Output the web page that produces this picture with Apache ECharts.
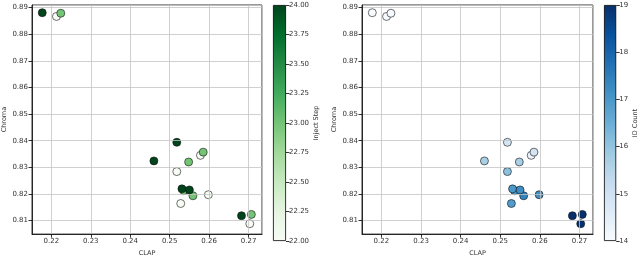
<!DOCTYPE html>
<html><head><meta charset="utf-8">
<script src="https://cdn.jsdelivr.net/npm/echarts@6/dist/echarts.min.js"></script>
<style>html,body{margin:0;padding:0;background:#fff}#c{width:640px;height:262px}</style>
</head><body><div id="c"></div>
<script>
// Data (ordered by inject step so overlaps match: 22, then 23, then 24)
const clap       = [0.2213,0.2578,0.2518,0.2528,0.2598,0.2703, 0.2224,0.2585,0.2548,0.2536,0.2559,0.2707, 0.2177,0.2518,0.2460,0.2531,0.2550,0.2682];
const chroma     = [0.8867,0.8345,0.8284,0.8164,0.8197,0.8088, 0.8879,0.8357,0.8320,0.8212,0.8193,0.8123, 0.8881,0.8394,0.8324,0.8219,0.8215,0.8118];
const injectStep = [22,22,22,22,22,22, 23,23,23,23,23,23, 24,24,24,24,24,24];
const idCount    = [14,14.3,16.1,16.9,17.2,19, 14,14.9,15.7,16.9,17.4,19, 14,14.9,15.7,17.0,17.2,19];
const stepTicks  = [22,24,0.25];
const idTicks    = [14,19,1];
const greens = ['#f7fcf5','#e5f5e0','#c7e9c0','#a1d99b','#74c476','#41ab5d','#238b45','#006d2c','#00441b'];
const blues  = ['#f7fbff','#deebf7','#c6dbef','#9ecae1','#6baed6','#4292c6','#2171b5','#08519c','#08306b'];

const rows = clap.map((c,i)=>[c, chroma[i], injectStep[i], idCount[i]]);
const FONT = 'DejaVu Sans';
const txt = {fontFamily: FONT, fontSize: 7, color: '#333'};
const nice = v => Math.abs(v*100 - Math.round(v*100)) < 1e-6;

function xAx(gi){
  return {type:'value', gridIndex:gi, min:0.2151, max:0.2734, splitNumber:6, minInterval:0.01, maxInterval:0.01, z:3,
    axisLine:{show:true, onZero:false, lineStyle:{color:'#000', width:0.8}},
    axisTick:{show:true, length:3.5, lineStyle:{color:'#000', width:0.8}},
    axisLabel:Object.assign({margin:4, showMinLabel:false, showMaxLabel:false, formatter:v=> nice(v)? v.toFixed(2):''}, txt),
    splitLine:{show:true, lineStyle:{color:'#c4c4c4', width:0.8}},
    name:'CLAP', nameLocation:'middle', nameGap:14, nameTextStyle:{fontFamily:FONT, fontSize:6.5, color:'#333'}};
}
function yAx(gi){
  return {type:'value', gridIndex:gi, min:0.8049, max:0.891, splitNumber:9, minInterval:0.01, maxInterval:0.01, z:3,
    axisLine:{show:true, onZero:false, lineStyle:{color:'#000', width:0.8}},
    axisTick:{show:true, length:3.5, lineStyle:{color:'#000', width:0.8}},
    axisLabel:Object.assign({margin:4, showMinLabel:false, showMaxLabel:false, formatter:v=> nice(v)? v.toFixed(2):''}, txt),
    splitLine:{show:true, lineStyle:{color:'#c4c4c4', width:0.8}},
    name:'Chroma', nameLocation:'middle', nameGap:24, nameTextStyle:{fontFamily:FONT, fontSize:6.5, color:'#333'}};
}
function cbX(gi){
  return {type:'category', gridIndex:gi, data:[''], show:false, boundaryGap:true};
}
function cbY(gi, t, name, dec, gap){
  return {type:'value', gridIndex:gi, position:'right', min:t[0], max:t[1], interval:t[2], z:3,
    axisLine:{show:false}, splitLine:{show:false},
    axisTick:{show:true, length:3.5, lineStyle:{color:'#000', width:0.8}},
    axisLabel:Object.assign({margin:3, formatter:v=>v.toFixed(dec)}, txt),
    name:name, nameLocation:'middle', nameGap:gap, nameRotate:90, nameTextStyle:{fontFamily:FONT, fontSize:6.5, color:'#333'}};
}
function grad(cols){
  return new echarts.graphic.LinearGradient(0,1,0,0, cols.map((c,i)=>({offset:i/(cols.length-1), color:c})));
}
const chart = echarts.init(document.getElementById('c'), null, {renderer:'canvas'});
chart.setOption({
  animation:false,
  backgroundColor:'#fff',
  grid:[
    {left:32, top:5, width:230, height:236, show:true, borderColor:'#000', borderWidth:0.8},
    {left:362, top:5, width:231, height:236, show:true, borderColor:'#000', borderWidth:0.8},
    {left:273, top:5, width:13, height:236},
    {left:604, top:5, width:12.5, height:236}
  ],
  xAxis:[xAx(0), xAx(1), cbX(2), cbX(3)],
  yAxis:[yAx(0), yAx(1), cbY(2, stepTicks, 'Inject Step', 2, 27), cbY(3, idTicks, 'ID Count', 0, 15)],
  visualMap:[
    {type:'continuous', show:false, seriesIndex:0, dimension:2, min:stepTicks[0], max:stepTicks[1], inRange:{color:greens}},
    {type:'continuous', show:false, seriesIndex:1, dimension:3, min:idTicks[0], max:idTicks[1], inRange:{color:blues}}
  ],
  series:[
    {type:'scatter', xAxisIndex:0, yAxisIndex:0, data:rows, symbolSize:8, itemStyle:{borderColor:'#111', borderWidth:0.6, opacity:1}},
    {type:'scatter', xAxisIndex:1, yAxisIndex:1, data:rows, symbolSize:8, itemStyle:{borderColor:'#111', borderWidth:0.6, opacity:1}},
    {type:'bar', xAxisIndex:2, yAxisIndex:2, stack:'a', data:[stepTicks[0]], barWidth:'100%', itemStyle:{color:'rgba(0,0,0,0)'}, silent:true},
    {type:'bar', xAxisIndex:2, yAxisIndex:2, stack:'a', data:[stepTicks[1]-stepTicks[0]], barWidth:'100%', itemStyle:{color:grad(greens), borderColor:'#000', borderWidth:0.8}, silent:true},
    {type:'bar', xAxisIndex:3, yAxisIndex:3, stack:'b', data:[idTicks[0]], barWidth:'100%', itemStyle:{color:'rgba(0,0,0,0)'}, silent:true},
    {type:'bar', xAxisIndex:3, yAxisIndex:3, stack:'b', data:[idTicks[1]-idTicks[0]], barWidth:'100%', itemStyle:{color:grad(blues), borderColor:'#000', borderWidth:0.8}, silent:true}
  ]
});
</script></body></html>
